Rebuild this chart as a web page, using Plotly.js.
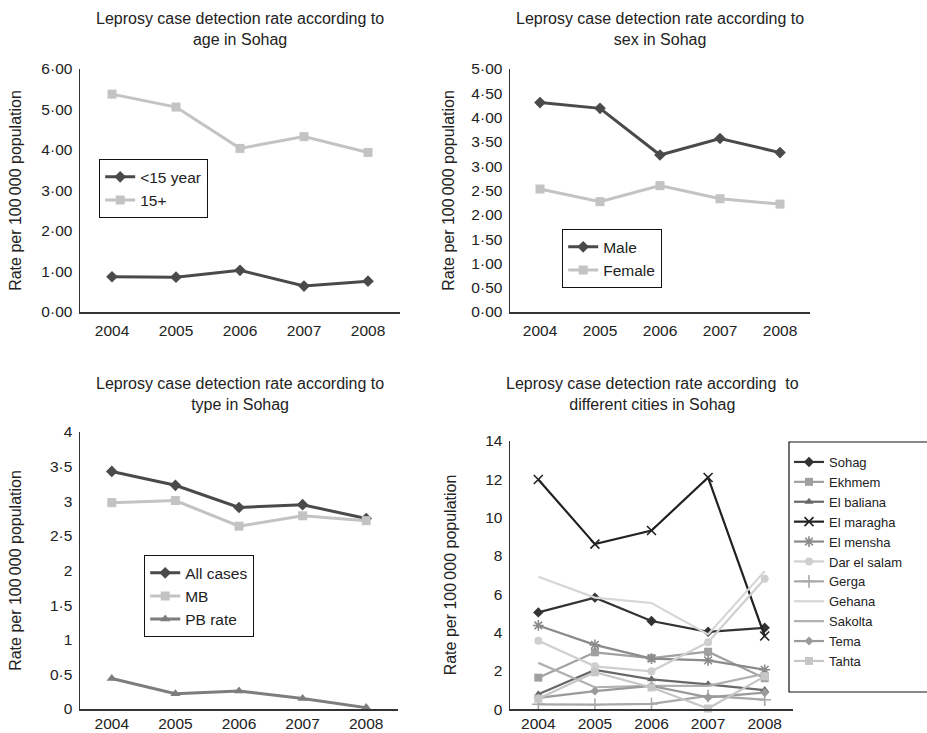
<!DOCTYPE html>
<html>
<head>
<meta charset="utf-8">
<script src="https://cdn.plot.ly/plotly-3.0.1.min.js"></script>
<style>html,body{margin:0;padding:0;background:#fff}#chart{width:927px;height:733px}</style>
</head>
<body>
<div id="chart"></div>
<script>
// ---------- data ----------
const years = ['2004', '2005', '2006', '2007', '2008'];

// age panel
const ageUnder15 = [0.87, 0.86, 1.03, 0.64, 0.76];
const age15plus = [5.38, 5.06, 4.04, 4.33, 3.94];
const ageTickVals = [0, 1, 2, 3, 4, 5, 6];
const ageTickText = ['0·00', '1·00', '2·00', '3·00', '4·00', '5·00', '6·00'];

// sex panel
const sexMale = [4.31, 4.19, 3.23, 3.57, 3.28];
const sexFemale = [2.53, 2.27, 2.60, 2.33, 2.22];
const sexTickVals = [0, 0.5, 1, 1.5, 2, 2.5, 3, 3.5, 4, 4.5, 5];
const sexTickText = ['0·00', '0·50', '1·00', '1·50', '2·00', '2·50', '3·00', '3·50', '4·00', '4·50', '5·00'];

// type panel
const typeAll = [3.43, 3.23, 2.91, 2.95, 2.75];
const typeMB = [2.98, 3.01, 2.64, 2.79, 2.72];
const typePB = [0.44, 0.22, 0.26, 0.15, 0.02];
const typeTickVals = [0, 0.5, 1, 1.5, 2, 2.5, 3, 3.5, 4];
const typeTickText = ['0', '0·5', '1', '1·5', '2', '2·5', '3', '3·5', '4'];

// cities panel
const citySohag = [5.05, 5.82, 4.60, 4.04, 4.25];
const cityEkhmem = [1.65, 2.97, 2.67, 3.00, 1.62];
const cityElBaliana = [0.78, 2.05, 1.56, 1.30, 1.00];
const cityElMaragha = [11.98, 8.61, 9.32, 12.08, 3.82];
const cityElMensha = [4.37, 3.36, 2.64, 2.55, 2.06];
const cityDarElSalam = [3.57, 2.24, 1.98, 3.50, 6.80];
const cityGerga = [0.26, 0.24, 0.28, 0.70, 0.50];
const cityGehana = [6.91, 5.82, 5.54, 3.90, 7.20];
const citySakolta = [2.42, 1.15, 1.22, 1.22, 1.85];
const cityTema = [0.60, 0.95, 1.22, 0.62, 0.87];
const cityTahta = [0.55, 1.93, 1.14, 0.04, 1.72];
const cityTickVals = [0, 2, 4, 6, 8, 10, 12, 14];
const cityTickText = ['0', '2', '4', '6', '8', '10', '12', '14'];

const titleAge = 'Leprosy case detection rate according to<br>age in Sohag';
const titleSex = 'Leprosy case detection rate according to<br>sex in Sohag';
const titleType = 'Leprosy case detection rate according to<br>type in Sohag';
const titleCity = 'Leprosy case detection rate according  to<br>different cities in Sohag';
const yTitle = 'Rate per 100\u2009000 population';

// ---------- styling ----------
const FONT = 'Liberation Sans, Arial, sans-serif';
const TXT = '#222';
const DARK = '#4a4a4a';
const LIGHT = '#c3c3c3';
const MID = '#7d7d7d';

function line(x, y, name, color, symbol, size, xa, ya, legend, width) {
  const t = {
    type: 'scatter', mode: symbol ? 'lines+markers' : 'lines',
    x: x, y: y, name: name, xaxis: xa, yaxis: ya, legend: legend,
    cliponaxis: false,
    line: {color: color, width: width || 3}
  };
  if (symbol) {
    t.marker = {symbol: symbol, size: size, color: color};
    if (/open/.test(symbol)) t.marker.line = {color: color, width: 1.6};
  }
  return t;
}

const traces = [
  line(years, ageUnder15, '<15 year', DARK, 'diamond', 9, 'x', 'y', 'legend'),
  line(years, age15plus, '15+', LIGHT, 'square', 9, 'x', 'y', 'legend'),
  line(years, sexMale, 'Male', DARK, 'diamond', 9, 'x2', 'y2', 'legend2'),
  line(years, sexFemale, 'Female', LIGHT, 'square', 9, 'x2', 'y2', 'legend2'),
  line(years, typeAll, 'All cases', DARK, 'diamond', 9, 'x3', 'y3', 'legend3'),
  line(years, typeMB, 'MB', LIGHT, 'square', 9, 'x3', 'y3', 'legend3'),
  line(years, typePB, 'PB rate', MID, 'triangle-up', 9, 'x3', 'y3', 'legend3'),
  line(years, citySohag, 'Sohag', '#333333', 'diamond', 8, 'x4', 'y4', 'legend4', 2.2),
  line(years, cityEkhmem, 'Ekhmem', '#a0a0a0', 'square', 8, 'x4', 'y4', 'legend4', 2.2),
  line(years, cityElBaliana, 'El baliana', '#686868', 'triangle-up', 8, 'x4', 'y4', 'legend4', 2.2),
  line(years, cityElMaragha, 'El maragha', '#222222', 'x-thin-open', 9, 'x4', 'y4', 'legend4', 2.2),
  line(years, cityElMensha, 'El mensha', '#8a8a8a', 'asterisk-open', 9, 'x4', 'y4', 'legend4', 2.2),
  line(years, cityDarElSalam, 'Dar el salam', '#cfcfcf', 'circle', 8, 'x4', 'y4', 'legend4', 2.2),
  line(years, cityGerga, 'Gerga', '#a8a8a8', 'cross-thin-open', 9, 'x4', 'y4', 'legend4', 2.2),
  line(years, cityGehana, 'Gehana', '#d6d6d6', null, 0, 'x4', 'y4', 'legend4', 2.2),
  line(years, citySakolta, 'Sakolta', '#b0b0b0', null, 0, 'x4', 'y4', 'legend4', 2.2),
  line(years, cityTema, 'Tema', '#9a9a9a', 'diamond', 7, 'x4', 'y4', 'legend4', 2.2),
  line(years, cityTahta, 'Tahta', '#c6c6c6', 'square', 8, 'x4', 'y4', 'legend4', 2.2)
];

const W = 927, H = 733;
const px = v => v / W;
const py = v => 1 - v / H;

function xaxis(d, anchor, standoff) {
  return {
    domain: d, anchor: anchor, type: 'category', range: [-0.5, 4.5],
    showline: true, linecolor: '#333', linewidth: 1.5, showgrid: false, zeroline: false,
    ticks: '', ticklabelstandoff: standoff, tickfont: {family: FONT, size: 15.5, color: TXT}, fixedrange: true
  };
}
function yaxis(d, anchor, rng, tv, tt, standoff) {
  return {
    domain: d, anchor: anchor, range: rng, tickmode: 'array', tickvals: tv, ticktext: tt,
    showline: true, linecolor: '#333', linewidth: 1.5, showgrid: false, zeroline: false,
    ticks: '', ticklabelstandoff: 3, tickfont: {family: FONT, size: 15.5, color: TXT},
    title: {text: yTitle, font: {family: FONT, size: 16, color: TXT}, standoff: standoff},
    fixedrange: true
  };
}

function legend(x, y, size) {
  return {
    x: px(x), y: py(y), xanchor: 'left', yanchor: 'top',
    bgcolor: 'rgba(0,0,0,0)', bordercolor: '#111', borderwidth: 1.2,
    font: {family: FONT, size: size || 15.5, color: TXT},
    itemwidth: 30, tracegroupgap: 0
  };
}
function titleAnn(text, xc, y) {
  return {text: text, xref: 'paper', yref: 'paper', x: px(xc), y: py(y), xanchor: 'center', yanchor: 'top',
    showarrow: false, font: {family: FONT, size: 16, color: TXT}};
}

const layout = {
  width: W, height: H,
  margin: {l: 0, r: 0, t: 0, b: 0},
  paper_bgcolor: '#fff', plot_bgcolor: '#fff',
  font: {family: FONT, color: TXT},
  showlegend: true,
  xaxis: xaxis([px(80), px(400)], 'y', 4),
  yaxis: yaxis([py(312), py(69)], 'x', [0, 6], ageTickVals, ageTickText, 16),
  xaxis2: xaxis([px(510), px(810)], 'y2', 4),
  yaxis2: yaxis([py(312), py(69)], 'x2', [0, 5], sexTickVals, sexTickText, 13),
  xaxis3: xaxis([px(80), px(398)], 'y3', 0),
  yaxis3: yaxis([py(709), py(432)], 'x3', [0, 4], typeTickVals, typeTickText, 24),
  xaxis4: xaxis([px(510), px(793)], 'y4', 0),
  yaxis4: yaxis([py(709.3), py(440.7)], 'x4', [0, 14], cityTickVals, cityTickText, 24),
  legend: legend(99, 159),
  legend2: legend(562, 229),
  legend3: legend(144, 555),
  legend4: Object.assign(legend(789, 447, 13), {borderwidth: 0}),
  shapes: [
    {type: 'rect', xref: 'paper', yref: 'paper', x0: px(789), x1: px(935), y0: py(692), y1: py(442),
     line: {color: '#111', width: 1.2}}
  ],
  annotations: [
    titleAnn(titleAge, 240, 8),
    titleAnn(titleSex, 660, 8),
    titleAnn(titleType, 240, 373),
    titleAnn(titleCity, 652, 373)
  ]
};

Plotly.newPlot('chart', traces, layout, {displayModeBar: false, staticPlot: true});
</script>
</body>
</html>
